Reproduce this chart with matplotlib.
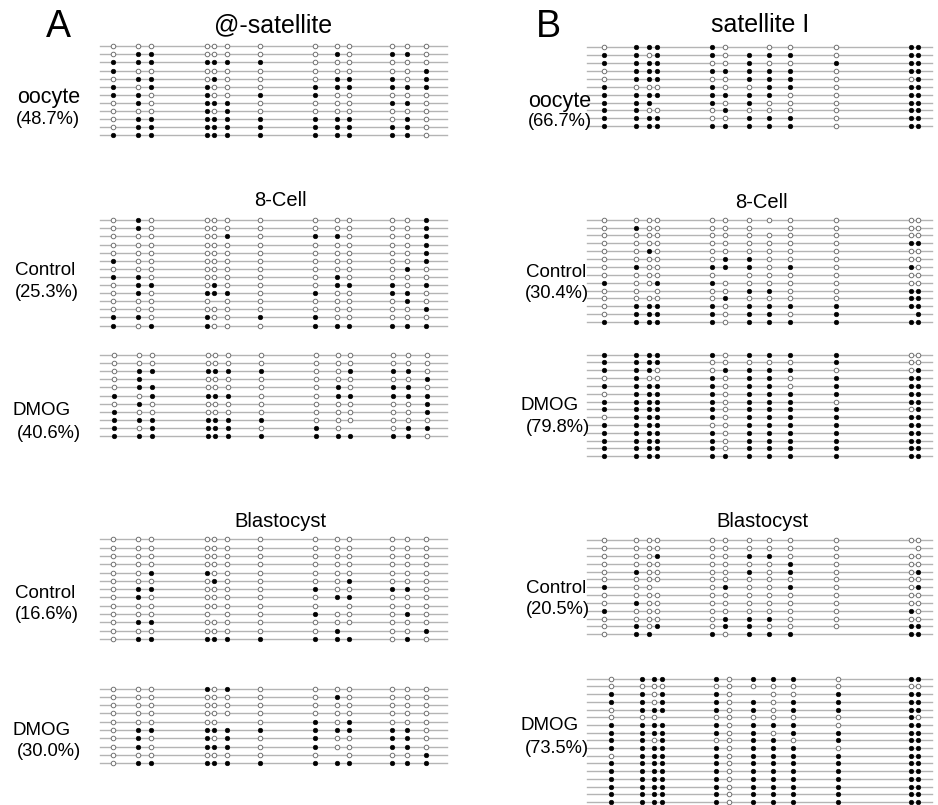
import matplotlib
matplotlib.use("Agg")
import matplotlib.pyplot as plt

plt.rcParams['font.family'] = ['Liberation Sans', 'DejaVu Sans']

# CpG positions (pixel x) for each amplicon
cpg_a = [113, 138, 151, 207, 214, 227, 260, 315, 337, 349, 392, 407, 426]
cpg_b = [604, 636, 649, 657, 712, 725, 749, 769, 790, 836, 911, 918]
cpg_b2 = [611, 642, 654, 662, 716, 729, 753, 773, 793, 838, 911, 918]

# 1 = methylated, 0 = unmethylated, - = not determined
a_oocyte = [
    "0000000000000", "0110000010110", "1111111000000", "1000000000001",
    "0110100011101", "1011000111111", "1101001100000", "0101110000110",
    "0001010000000", "0111111111010", "0111111111110", "1111111111110",
]
a_8c_ctrl = [
    "0100000000001", "0100000000001", "0000010110001", "0000000000001",
    "0000000000001", "1000000000001", "0000000000010", "1100000010000",
    "0110100011101", "0101110100110", "0000-00000010", "0000000000001",
    "1101001100000", "1011000111111",
]
a_8c_dmog = [
    "0000000000000", "0000000000000", "0111111001110", "01-0000000001",
    "0110000010110", "1011110011111", "0100000000001", "1000000000001",
    "1111111000000", "101111010-011", "1111111111110",
]
a_bl_ctrl = [
    "0000000000000", "0000000000000", "0000000000000", "0000000000000",
    "0011000000000", "0000100001000", "0110000100110", "0100000011000",
    "00000000-0000", "0000-00100010", "0110000000000", "000000001-001",
    "0111111111010",
]
a_bl_dmog = [
    "0001010000000", "0000000010000", "0000000000000", "0000000000000",
    "00000-0101000", "0111111111110", "0101010100110", "0101110100110",
    "00000000-0001", "0111111111111",
]
b_oocyte = [
    "011110-00011", "110110111011", "111100100111", "011111111011",
    "011100111001", "100010011011", "111111110011", "111-10100011",
    "110001000011", "111100111011", "111111111011",
]
b_8c_ctrl = [
    "000000000000", "0100000-0000", "000000000000", "000000000011",
    "001000000000", "000001100000", "010011101010", "00000-000000",
    "100110000000", "00-000110011", "000001000011", "011110111111",
    "0111101101-1", "111110111111",
]
b_8c_dmog = [
    "111110111100", "111100000100", "111001111001", "010010110111",
    "111110110111", "011110111111", "111110111011", "111110111101",
    "011110111111", "111100111111", "111110111111", "111110111111",
    "111110111111", "111111111111",
]
b_bl_ctrl = [
    "000000000000", "0000000000-0", "000100110000", "000000001000",
    "010000101001", "000000000000", "100-01001001", "000000000000",
    "010000000000", "100000000010", "000001110000", "010101100011",
    "011-10111-11",
]
b_bl_dmog = [
    "011110111011", "000000000000", "110110-00111", "110110101111",
    "011110101111", "000-00000010", "111110111011", "111110101111",
    "110100110111", "111110111011", "011110111111", "111110111111",
    "111110111111", "111110111111", "111110111111", "111110111111",
    "111110111111",
]

# panel layout: rows, cpg positions, line extent, first row y, row spacing
panels = [
    (a_oocyte, cpg_a, (100, 447), 46.3, 8.09),
    (a_8c_ctrl, cpg_a, (100, 447), 220.3, 8.1),
    (a_8c_dmog, [x + 1 for x in cpg_a], (100, 447), 354.7, 8.16),
    (a_bl_ctrl, cpg_a, (100, 447), 539.3, 8.3),
    (a_bl_dmog, cpg_a, (100, 447), 688.7, 8.26),
    (b_oocyte, cpg_b, (587, 932), 47.3, 7.9),
    (b_8c_ctrl, cpg_b, (587, 932), 219.7, 7.87),
    (b_8c_dmog, cpg_b, (587, 932), 354.7, 7.8),
    (b_bl_ctrl, cpg_b, (587, 932), 540.3, 7.83),
    (b_bl_dmog, cpg_b2, (587, 932), 678.7, 7.7),
]

fig = plt.figure(figsize=(9.38, 8.05), dpi=100)
ax = fig.add_axes([0, 0, 1, 1])
ax.set_xlim(0, 938)
ax.set_ylim(805, 0)
ax.axis('off')

for rows, xs, (x0, x1), y0, dy in panels:
    for i, row in enumerate(rows):
        y = y0 + i * dy
        ax.plot([x0, x1], [y, y], color='#b4b4b4', lw=1.0, zorder=1)
        fx = [x for x, c in zip(xs, row) if c == '1']
        ox = [x for x, c in zip(xs, row) if c == '0']
        ax.scatter(ox, [y] * len(ox), s=11, facecolor='white',
                   edgecolor='#6a6a6a', linewidth=0.65, zorder=2)
        ax.scatter(fx, [y] * len(fx), s=11, facecolor='black',
                   edgecolor='black', linewidth=0.4, zorder=3)

# headings
ax.text(58, 27, "A", fontsize=27, ha='center', va='center')
ax.text(273, 25, "@-satellite", fontsize=18, ha='center', va='center')
ax.text(548, 27, "B", fontsize=27, ha='center', va='center')
ax.text(760, 25, "satellite I", fontsize=18, ha='center', va='center')

for x, y, s in [(280, 200, "8-Cell"), (280, 521, "Blastocyst"),
                (761, 202, "8-Cell"), (762, 521, "Blastocyst")]:
    ax.text(x, y, s, fontsize=14.5, ha='center', va='center')

# oocyte labels are set larger than the embryo labels
labels = [
    (49, 98, 48, 119, "oocyte", "(48.7%)", 15.5),
    (45, 270, 47, 292, "Control", "(25.3%)", 13.5),
    (42, 410, 49, 433, "DMOG", "(40.6%)", 13.5),
    (45, 593, 47, 614, "Control", "(16.6%)", 13.5),
    (42, 730, 49, 751, "DMOG", "(30.0%)", 13.5),
    (560, 101, 560, 122, "oocyte", "(66.7%)", 15.5),
    (556, 272, 557, 293, "Control", "(30.4%)", 13.5),
    (550, 405, 558, 427, "DMOG", "(79.8%)", 13.5),
    (556, 588, 558, 609, "Control", "(20.5%)", 13.5),
    (550, 725, 557, 748, "DMOG", "(73.5%)", 13.5),
]
for xa, ya, xb, yb, name, pct, fs in labels:
    ax.text(xa, ya, name, fontsize=fs, ha='center', va='center')
    ax.text(xb, yb, pct, fontsize=13.2, ha='center', va='center')

fig.savefig("out.png", dpi=100, facecolor='white')
